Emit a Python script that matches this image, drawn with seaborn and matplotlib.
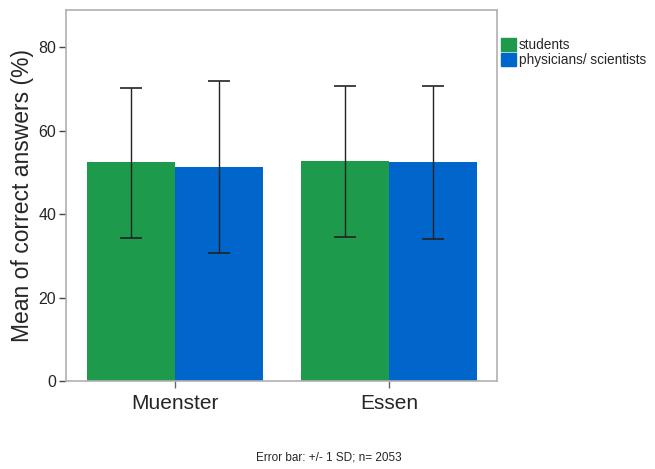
import numpy as np
import pandas as pd
import matplotlib
matplotlib.use("Agg")
import matplotlib.pyplot as plt
import seaborn as sns

# data
sites = ["Muenster", "Essen"]
groups = ["students", "physicians/ scientists"]
means_students = [52.4, 52.6]
means_physicians = [51.3, 52.5]
upper_students = [70.3, 70.7]
upper_physicians = [71.9, 70.8]
lower_students = [34.3, 34.5]
lower_physicians = [30.7, 34.0]

df = pd.DataFrame({
    "site": sites * 2,
    "group": [groups[0]] * 2 + [groups[1]] * 2,
    "mean": means_students + means_physicians,
    "upper": upper_students + upper_physicians,
    "lower": lower_students + lower_physicians,
})

sns.set_style("white")
plt.rcParams['font.family'] = ['Liberation Sans', 'DejaVu Sans']

fig = plt.figure(figsize=(6.55, 4.69), dpi=100)
ax = fig.add_axes([0.1008, 0.1876, 0.6580, 0.7911])

palette = {groups[0]: "#1e9a4c", groups[1]: "#0066cc"}
sns.barplot(data=df, x="site", y="mean", hue="group", order=sites,
            hue_order=groups, palette=palette, width=0.82, saturation=1,
            errorbar=None, linewidth=0, ax=ax, legend=False)

# error bars at the bar centres
for bars, g in zip(ax.containers, groups):
    sub = df[df["group"] == g].set_index("site").loc[sites]
    xs = [b.get_x() + b.get_width() / 2 for b in bars]
    ax.errorbar(xs, sub["mean"],
                yerr=[sub["mean"] - sub["lower"], sub["upper"] - sub["mean"]],
                fmt="none", ecolor="#222222", elinewidth=1, capsize=8,
                capthick=1.2)

ax.set_xlim(-0.51, 1.505)
ax.set_ylim(0, 88.9)
ax.set_yticks([0, 20, 40, 60, 80])
ax.set_xlabel("")
ax.set_ylabel("Mean of correct answers (%)", fontsize=16.5, labelpad=3)
ax.tick_params(axis="y", labelsize=11.5, length=5, width=1, color="#444444",
               left=True, pad=2)
ax.tick_params(axis="x", labelsize=15, length=5, width=1, color="#666666",
               bottom=True, pad=4)
for s in ax.spines.values():
    s.set_color("#b0b0b0")
    s.set_linewidth(1.2)

handles = [plt.Rectangle((0, 0), 1, 1, color=palette[g]) for g in groups]
fig.legend(handles, groups, loc="upper left", bbox_to_anchor=(0.757, 0.93),
           frameon=False, fontsize=9.8, handlelength=1.1, handleheight=1.1,
           handletextpad=0.2, labelspacing=0.05, borderaxespad=0)

fig.text(0.502, 0.012, "Error bar: +/- 1 SD; n= 2053", ha="center",
         va="bottom", fontsize=8.5)

fig.savefig("out.png", dpi=100)
